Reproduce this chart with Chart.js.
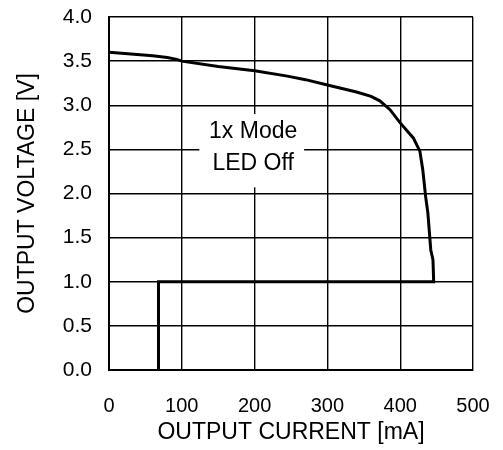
<!DOCTYPE html>
<html>
<head>
<meta charset="utf-8">
<script src="https://cdn.jsdelivr.net/npm/chart.js@4"></script>
<style>
  html, body { margin: 0; padding: 0; background: #fff; }
  #wrap { width: 503px; height: 450px; position: relative; }
</style>
</head>
<body>
<div id="wrap"><canvas id="c" width="503" height="450"></canvas></div>
<script>
// Output current [mA] and output voltage [V], traced in order
const currentMA = [0, 30, 60, 80, 93, 100, 150, 200, 245, 270, 300, 340, 360, 372, 386, 400, 418, 427, 431, 435, 438, 442, 445, 446, 68, 68];
const voltageV  = [3.60, 3.58, 3.56, 3.54, 3.52, 3.50, 3.44, 3.39, 3.33, 3.29, 3.23, 3.15, 3.10, 3.05, 2.95, 2.80, 2.63, 2.48, 2.27, 1.96, 1.78, 1.36, 1.25, 1.00, 1.00, 0.00];

const xTicks = [0, 100, 200, 300, 400, 500];
const yTicks = [0.0, 0.5, 1.0, 1.5, 2.0, 2.5, 3.0, 3.5, 4.0];

const noteLines = ["1x Mode", "LED Off"];
const noteAt = { x: 198, y1: 2.70, y2: 2.34 };
const noteBox = { x0: 124, x1: 268, y0: 2.07, y1: 2.90 };

const points = currentMA.map((x, i) => ({ x: x, y: voltageV[i] }));

const notePlugin = {
  id: 'note',
  beforeDatasetsDraw(chart) {
    const { ctx, scales } = chart;
    const xs = scales.x, ys = scales.y;
    const l = xs.getPixelForValue(noteBox.x0), r = xs.getPixelForValue(noteBox.x1);
    const t = ys.getPixelForValue(noteBox.y1), b = ys.getPixelForValue(noteBox.y0);
    ctx.save();
    ctx.fillStyle = '#fff';
    ctx.fillRect(l, t, r - l, b - t);
    ctx.fillStyle = '#000';
    ctx.font = '23px "Liberation Sans", Arial, sans-serif';
    ctx.textAlign = 'center';
    ctx.textBaseline = 'middle';
    const cx = xs.getPixelForValue(noteAt.x);
    ctx.fillText(noteLines[0], cx, ys.getPixelForValue(noteAt.y1));
    ctx.fillText(noteLines[1], cx, ys.getPixelForValue(noteAt.y2));
    ctx.restore();
  }
};

const FONT = '"Liberation Sans", Arial, sans-serif';

new Chart(document.getElementById('c'), {
  type: 'scatter',
  data: {
    datasets: [{
      data: points,
      showLine: true,
      borderColor: '#000',
      borderWidth: 3,
      pointRadius: 0,
      tension: 0,
      fill: false
    }]
  },
  options: {
    responsive: false,
    animation: false,
    events: [],
    layout: { padding: { left: 0, right: 30, top: 17, bottom: 0 } },
    plugins: { legend: { display: false }, tooltip: { enabled: false } },
    scales: {
      x: {
        type: 'linear', min: 0, max: 500,
        afterBuildTicks(s) { s.ticks = xTicks.map(v => ({ value: v })); },
        afterFit(s) { s.height = 80; s.paddingLeft = 0; s.paddingRight = 0; },
        ticks: { color: '#000', font: { family: FONT, size: 20 }, padding: 24, maxRotation: 0, autoSkip: false },
        grid: { color: '#000', lineWidth: 1.4, drawTicks: false },
        border: { color: '#000', width: 2 },
        title: { display: true, text: 'OUTPUT CURRENT [mA]', color: '#000', font: { family: FONT, size: 23 }, padding: { top: 0, bottom: 4 } }
      },
      y: {
        type: 'linear', min: 0, max: 4,
        afterBuildTicks(s) { s.ticks = yTicks.map(v => ({ value: v })); },
        afterFit(s) { s.width = 109; s.paddingTop = 0; s.paddingBottom = 0; },
        ticks: { color: '#000', font: { family: FONT, size: 21 }, padding: 17, autoSkip: false, callback: v => Number(v).toFixed(1) },
        grid: { color: '#000', lineWidth: 1.4, drawTicks: false },
        border: { color: '#000', width: 2 },
        title: { display: true, text: 'OUTPUT VOLTAGE [V]', color: '#000', font: { family: FONT, size: 23 }, padding: { top: 14, bottom: 0 } }
      }
    }
  },
  plugins: [notePlugin]
});
</script>
</body>
</html>
